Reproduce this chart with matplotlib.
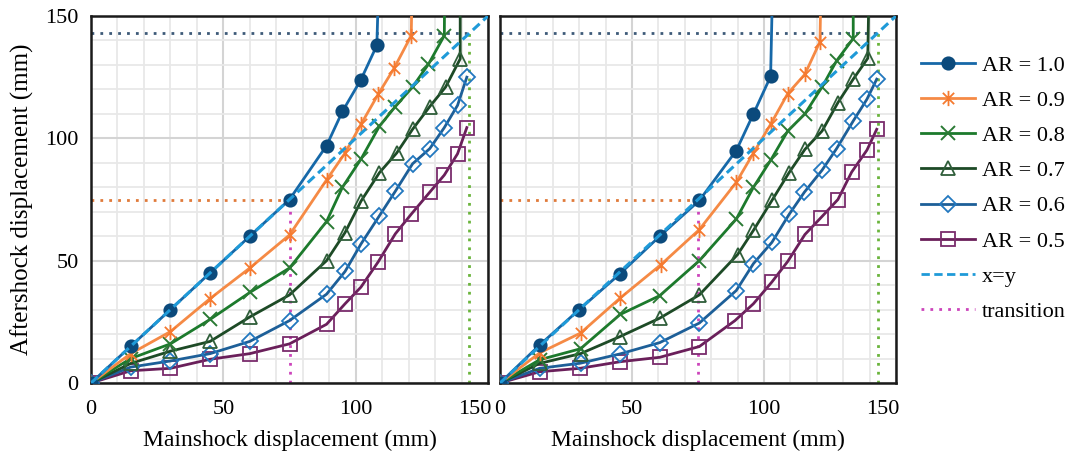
import matplotlib
matplotlib.use("Agg")
import matplotlib.pyplot as plt
from matplotlib.path import Path
from matplotlib.lines import Line2D
from matplotlib.ticker import MultipleLocator
import matplotlib.transforms as mtrans

plt.rcParams['font.family'] = ['Liberation Serif', 'DejaVu Serif']

# ---------------- data ----------------
labels = ["AR = 1.0", "AR = 0.9", "AR = 0.8", "AR = 0.7", "AR = 0.6", "AR = 0.5"]

# Left panel
L_x10 = [0, 15, 30, 45, 60, 75, 89, 95, 102, 108, 109]
L_y10 = [0, 15, 30, 45, 60, 75, 97, 111, 124, 138, 175]
L_x09 = [0, 15, 30, 45, 60, 75, 89, 96, 102, 108.5, 114.5, 121, 121.5]
L_y09 = [0, 12, 21, 34.5, 47, 60.5, 83, 94, 105.7, 118, 128.6, 142, 175]
L_x08 = [0, 15, 30, 45, 60, 75, 89, 95, 102, 109, 115, 121.5, 127.5, 133.5, 133.7]
L_y08 = [0, 10, 16, 26, 37, 47, 66, 80, 91.5, 105, 113, 121, 130.3, 142, 175]
L_x07 = [0, 15, 30, 45, 60, 75, 89, 96, 102, 109, 115.5, 121.5, 128, 134, 139.5, 139.5]
L_y07 = [0, 8, 13, 17, 27, 36, 50, 61.5, 74.3, 86, 94, 103.7, 113, 121, 132.5, 175]
L_x06 = [0, 15, 30, 45, 60, 75, 89, 96, 102, 109, 115, 121.5, 128, 133.5, 138.5, 142]
L_y06 = [0, 6.5, 9, 12, 17, 25.5, 36.3, 45.6, 56.8, 68.4, 78.4, 89.6, 95.8, 104.4, 113.5, 125]
L_x05 = [0, 15, 30, 45, 60, 75, 89, 96, 102, 108.5, 115, 121, 128, 133.5, 138.5, 142]
L_y05 = [0, 5, 6, 9.7, 12, 16, 24, 32.4, 39.2, 49.5, 61, 69, 78, 85, 93.7, 104.4]

# Right panel
R_x10 = [0, 15, 30, 45.5, 60.5, 75.5, 89.5, 96, 102.5, 103.5]
R_y10 = [0, 15.5, 30, 44.7, 60, 74.6, 95, 110, 125.3, 175]
R_x09 = [0, 15, 30.5, 45.5, 61, 75.5, 89.5, 96, 102.5, 109, 115.5, 121.2, 121.8]
R_y09 = [0, 12.3, 20.4, 34.7, 48.4, 62.7, 82, 94, 105.7, 118.3, 126.2, 139.5, 175]
R_x08 = [0, 15, 30.5, 45.5, 60.5, 75.5, 89.5, 96, 102.5, 109, 115.5, 122, 127.5, 133.8, 133.8]
R_y08 = [0, 9.5, 14, 28, 35.7, 50, 67, 80, 91, 103, 110, 121, 131.7, 140.8, 175]
R_x07 = [0, 15, 30.5, 45.5, 60.5, 75.5, 90, 96, 103, 109.5, 115.5, 122, 128, 133.8, 139.3, 140]
R_y07 = [0, 8, 12, 19, 26.5, 36, 52.5, 62.4, 74.6, 86, 95.5, 103, 114.6, 124.2, 132.7, 175]
R_x06 = [0, 15, 30.5, 45.5, 60.5, 75.5, 89.5, 96, 103, 109.5, 115.3, 122, 127.5, 133.8, 139, 142.7]
R_y06 = [0, 6, 8.1, 11.9, 16.5, 24.5, 37.8, 48.8, 57.5, 68.9, 78, 87, 95.8, 107.1, 116, 124.2]
R_x05 = [0, 15, 30.3, 45.5, 60.5, 75.5, 89, 96, 103, 109, 115.5, 121.5, 128, 133.2, 139, 142.7]
R_y05 = [0, 4.6, 6, 8.7, 10.5, 14.9, 25.5, 32.4, 41.3, 49.7, 60.7, 67.5, 75, 86.2, 95.2, 103.7]

transition = 75
ultimate = 143
axis_max = 150
ticks = [0, 50, 100, 150]

# ---------------- styles ----------------
star = Path([(-1, -1), (1, 1), (-1, 1), (1, -1), (0, -1.35), (0, 1.35)],
            [Path.MOVETO, Path.LINETO, Path.MOVETO, Path.LINETO, Path.MOVETO, Path.LINETO])

styles = [
    dict(color='#1668a8', marker='o', ms=9, mfc='#0b4a7c', mec='#0b4a7c', mew=1.2),
    dict(color='#f58a45', marker=star, ms=11, mfc='none', mec='#f57a30', mew=1.3),
    dict(color='#1c7a2c', marker='x', ms=10, mfc='none', mec='#2a7a34', mew=1.4),
    dict(color='#1d4a26', marker='^', ms=10, mfc='none', mec='#2f5e3a', mew=1.3),
    dict(color='#1d5f98', marker='D', ms=8, mfc='none', mec='#2278bf', mew=1.3),
    dict(color='#6a1f5a', marker='s', ms=10, mfc='none', mec='#7a2c6c', mew=1.3),
]

fig = plt.figure(figsize=(10.69, 4.58), dpi=100)
W, H = 1069, 458
axL = fig.add_axes([91 / W, 1 - 383 / H, 397 / W, 367 / H])
axR = fig.add_axes([500 / W, 1 - 383 / H, 396 / W, 367 / H])

panels = [
    (axL, [(L_x10, L_y10), (L_x09, L_y09), (L_x08, L_y08), (L_x07, L_y07), (L_x06, L_y06), (L_x05, L_y05)]),
    (axR, [(R_x10, R_y10), (R_x09, R_y09), (R_x08, R_y08), (R_x07, R_y07), (R_x06, R_y06), (R_x05, R_y05)]),
]

dot = (0, (1, 2.2))
for ax, series in panels:
    ax.set_xlim(0, axis_max)
    ax.set_ylim(0, axis_max)
    ax.xaxis.set_major_locator(MultipleLocator(50))
    ax.yaxis.set_major_locator(MultipleLocator(50))
    ax.xaxis.set_minor_locator(MultipleLocator(10))
    ax.yaxis.set_minor_locator(MultipleLocator(10))
    ax.grid(which='minor', color='#e8e8e8', lw=1.3, zorder=0)
    ax.grid(which='major', color='#d4d4d4', lw=1.5, zorder=0)
    ax.set_axisbelow(True)
    ax.tick_params(which='both', length=0, labelsize=16)
    ax.tick_params(axis='x', pad=12)
    ax.tick_params(axis='y', pad=9)
    for s in ax.spines.values():
        s.set_color('#1a1a1a')
        s.set_linewidth(1.8)

    # reference lines
    ax.plot([0, ultimate], [ultimate, ultimate], color='#3d5a78', lw=2, ls=dot, zorder=2)
    ax.plot([ultimate, ultimate], [0, ultimate], color='#6ab43c', lw=2, ls=dot, zorder=2)
    ax.plot([0, transition], [transition, transition], color='#e07a3a', lw=2, ls=dot, zorder=2)
    ax.plot([transition, transition], [0, transition], color='#cc44bb', lw=2, ls=dot, zorder=2)

    for (x, y), st, lab in zip(series[::-1], styles[::-1], labels[::-1]):
        ax.plot(x, y, lw=2, label=lab, zorder=3, **st)
    ax.plot([0, axis_max], [0, axis_max], color='#1f9ad8', lw=2.2, ls=(0, (3, 1.6)), zorder=4)

    ax.set_xlabel("Mainshock displacement (mm)", fontsize=17, labelpad=8)
    ax.set_xticks(ticks)

axL.set_ylabel("Aftershock displacement (mm)", fontsize=18, labelpad=8)
axL.set_yticks(ticks)
axR.set_yticks(ticks)
axR.tick_params(axis='y', labelleft=False)

# shift last x tick label left so it doesn't collide
for ax in (axL, axR):
    fig.canvas.draw()
    lbls = ax.get_xticklabels()
    lbls[-1].set_horizontalalignment('right')
    lbls[-1].set_transform(lbls[-1].get_transform() + mtrans.ScaledTranslation(3 / 100, 0, fig.dpi_scale_trans))

# legend
handles = []
for st, lab in zip(styles, labels):
    handles.append(Line2D([], [], lw=2, label=lab, **st))
handles.append(Line2D([], [], color='#1f9ad8', lw=2, ls=(0, (3, 1.6)), label='x=y'))
handles.append(Line2D([], [], color='#cc44bb', lw=2, ls=dot, label='transition'))
fig.legend(handles=handles, loc='upper left', bbox_to_anchor=(921 / W, 1 - 55 / H),
           frameon=False, fontsize=16, handlelength=2.45, handletextpad=0.3,
           labelspacing=0.66, borderpad=0, borderaxespad=0)

fig.savefig("out.png", dpi=100)
